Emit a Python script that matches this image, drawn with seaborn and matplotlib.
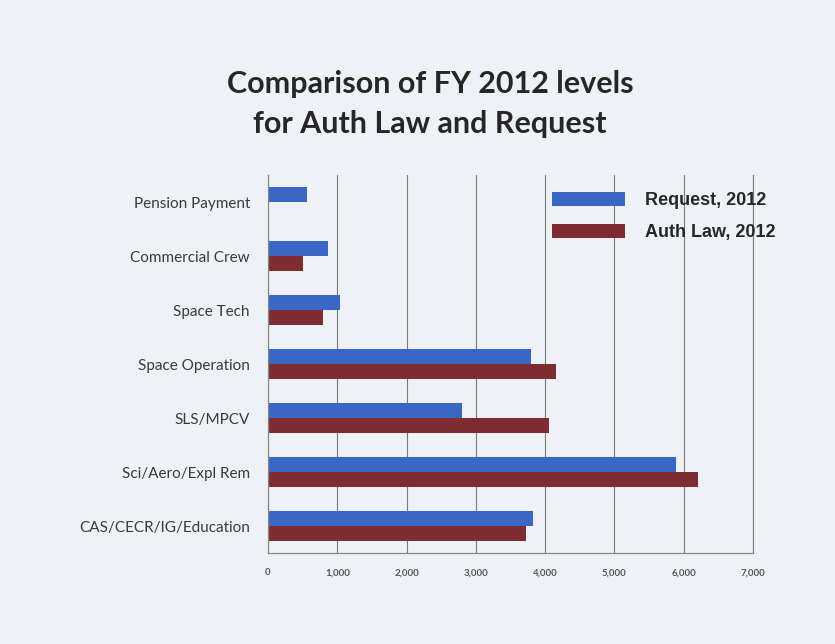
import pandas as pd
import matplotlib
matplotlib.use("Agg")
import matplotlib.pyplot as plt
import seaborn as sns

# --- data ---
categories = ["Pension Payment", "Commercial Crew", "Space Tech", "Space Operation",
              "SLS/MPCV", "Sci/Aero/Expl Rem", "CAS/CECR/IG/Education"]
request_2012 = [560, 860, 1040, 3800, 2800, 5890, 3820]
auth_law_2012 = [0, 500, 800, 4150, 4050, 6210, 3730]
series_names = ["Request, 2012", "Auth Law, 2012"]
x_ticks = [0, 1000, 2000, 3000, 4000, 5000, 6000, 7000]

df = pd.DataFrame({
    "category": categories * 2,
    "value": request_2012 + auth_law_2012,
    "series": [series_names[0]] * len(categories) + [series_names[1]] * len(categories),
})

bg = "#eef2f7"
grid_col = "#7a7a7a"
sns.set_style("white")
plt.rcParams["font.family"] = ["Lato", "DejaVu Sans"]

fig = plt.figure(figsize=(8.35, 6.44), dpi=100, facecolor=bg)
ax = fig.add_axes([268 / 835, 1 - 553 / 644, (753 - 268) / 835, (553 - 175) / 644])
ax.set_facecolor(bg)

sns.barplot(data=df, x="value", y="category", hue="series", orient="h",
            order=categories, hue_order=series_names,
            palette=["#3a66c6", "#7e2c2f"], width=0.56, saturation=1,
            linewidth=0, ax=ax)

# vertical gridlines
ax.set_xlim(0, 7000)
ax.set_xticks(x_ticks)
ax.set_xticklabels([f"{t:,}" for t in x_ticks], fontsize=7, fontweight="bold", color="#555555")
ax.xaxis.grid(True, color=grid_col, linewidth=0.8)
ax.set_axisbelow(True)

# category labels centered, tick marks between categories
ax.set_ylim(len(categories) - 0.5, -0.5)
ax.set_yticks(range(len(categories)))
ax.set_yticklabels(categories, fontsize=11, color="#3a3a3a")
ax.tick_params(axis="y", which="major", length=0, pad=13)
ax.set_yticks([i - 0.5 for i in range(len(categories) + 1)], minor=True)
ax.tick_params(axis="y", which="minor", length=5, color="#888888", direction="out")
ax.tick_params(axis="x", which="major", length=5, color="#888888", direction="out", pad=6)

ax.set_xlabel("")
ax.set_ylabel("")
ax.spines["top"].set_visible(False)
ax.spines["right"].set_color(grid_col)
ax.spines["right"].set_linewidth(0.8)
for s in ["left", "bottom"]:
    ax.spines[s].set_color("#888888")
    ax.spines[s].set_linewidth(0.9)

# legend
handles, labels = ax.get_legend_handles_labels()
ax.legend(handles, labels, loc="upper left", bbox_to_anchor=(552 / 835, 1 - 192 / 644),
          bbox_transform=fig.transFigure, frameon=False, borderpad=0, borderaxespad=0,
          handlelength=4.05, handleheight=0.83, handletextpad=1.1, labelspacing=0.8,
          prop={"family": "Liberation Sans", "weight": "bold", "size": 13})

fig.text(0.515, 1 - 104 / 644, "Comparison of FY 2012 levels\nfor Auth Law and Request",
         ha="center", va="center", fontsize=22, fontweight="bold", color="#262626",
         linespacing=1.55)

fig.savefig("out.png", dpi=100, facecolor=bg)
